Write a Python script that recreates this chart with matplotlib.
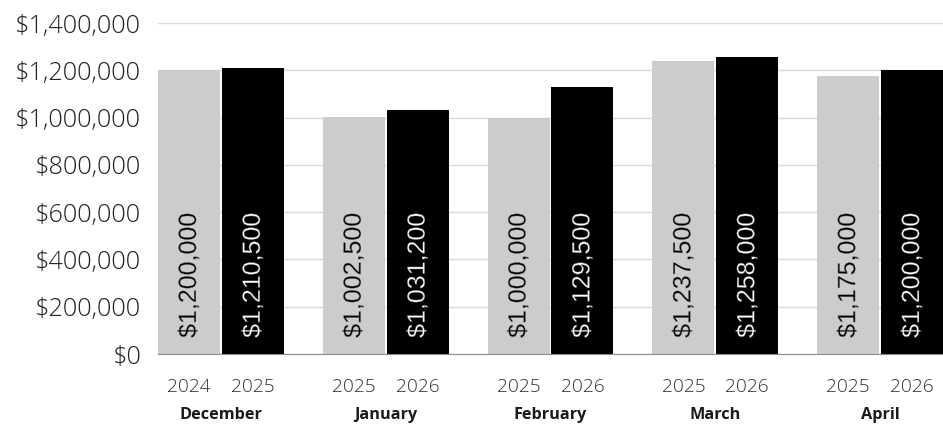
import matplotlib
matplotlib.use("Agg")
import matplotlib.pyplot as plt
import matplotlib.patheffects as pe
import numpy as np

months = ["December", "January", "February", "March", "April"]
prev_years = ["2024", "2025", "2025", "2025", "2025"]
curr_years = ["2025", "2026", "2026", "2026", "2026"]
prev_vals = [1200000, 1002500, 1000000, 1237500, 1175000]
curr_vals = [1210500, 1031200, 1129500, 1258000, 1200000]
y_ticks = [0, 200000, 400000, 600000, 800000, 1000000, 1200000, 1400000]

W, H = 943, 425
fig = plt.figure(figsize=(W / 100, H / 100), dpi=100)
ax = fig.add_axes([158 / W, 71 / H, 785 / W, 331 / H])

x = np.arange(len(months))
width = 62 / 165
off = 32 / 165

b1 = ax.bar(x - off, prev_vals, width, color="#cccccc", zorder=2)
b2 = ax.bar(x + off, curr_vals, width, color="#000000", zorder=2)

ax.set_xlim(-off - width / 2, len(months) - 1 + off + width / 2)
ax.set_ylim(0, 1400000)
ax.set_yticks(y_ticks)
ax.set_yticklabels(["${:,.0f}".format(v) for v in y_ticks],
                   fontfamily="Open Sans", fontweight="light", fontsize=18.2, color="#222222")
ax.yaxis.grid(True, color="#d9d9d9", linewidth=1, zorder=0)
ax.tick_params(axis="y", length=0, pad=12)
ax.tick_params(axis="x", length=0, pad=17)
for s in ["top", "right", "left"]:
    ax.spines[s].set_visible(False)
ax.spines["bottom"].set_color("#8c8c8c")
ax.spines["bottom"].set_zorder(3)

xt = np.concatenate([x - off, x + off])
ax.set_xticks(xt)
ax.set_xticklabels(prev_years + curr_years, fontfamily="Open Sans",
                   fontweight="light", fontsize=13.8, color="#333333")

for i, m in enumerate(months):
    ax.text(x[i], -0.184, m, transform=ax.get_xaxis_transform(), ha="center",
            va="center", fontfamily="Open Sans", fontweight="bold", fontsize=11.7,
            color="#1a1a1a")

# value labels, thinned a bit with an outline in the bar colour
for bars, vals, c, bg in [(b1, prev_vals, "#000000", "#cccccc"),
                          (b2, curr_vals, "#ffffff", "#000000")]:
    for r, v in zip(bars, vals):
        ax.text(r.get_x() + r.get_width() / 2, 68000, "${:,.0f}".format(v),
                rotation=90, ha="center", va="bottom", fontfamily="Liberation Sans",
                fontsize=18, color=c, zorder=4,
                path_effects=[pe.Normal(), pe.Stroke(linewidth=0.3, foreground=bg)])

fig.savefig("out.png", dpi=100)
